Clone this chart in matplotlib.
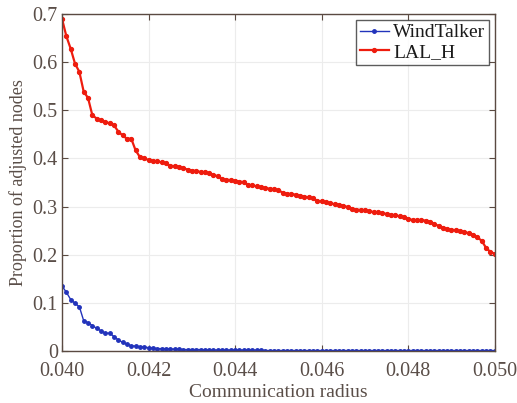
import numpy as np
import matplotlib
matplotlib.use("Agg")
import matplotlib.pyplot as plt

plt.rcParams['font.family'] = ['Liberation Serif', 'DejaVu Serif']

# communication radius, step 0.0001
radius = np.round(np.arange(0, 101) * 0.0001 + 0.040, 4)

lal_h = [0.690, 0.654, 0.628, 0.597, 0.580, 0.539, 0.526, 0.490, 0.483, 0.479,
         0.476, 0.473, 0.469, 0.456, 0.448, 0.441, 0.441, 0.417, 0.403, 0.400,
         0.397, 0.395, 0.394, 0.392, 0.390, 0.385, 0.384, 0.383, 0.380, 0.377,
         0.375, 0.374, 0.372, 0.371, 0.369, 0.366, 0.363, 0.357, 0.356, 0.355,
         0.354, 0.352, 0.351, 0.345, 0.344, 0.342, 0.340, 0.339, 0.337, 0.336,
         0.334, 0.329, 0.327, 0.326, 0.325, 0.323, 0.321, 0.319, 0.317, 0.312,
         0.311, 0.309, 0.307, 0.305, 0.304, 0.302, 0.299, 0.296, 0.294, 0.293,
         0.292, 0.290, 0.289, 0.288, 0.286, 0.285, 0.283, 0.282, 0.280, 0.279,
         0.275, 0.272, 0.272, 0.272, 0.271, 0.269, 0.264, 0.260, 0.256, 0.254,
         0.252, 0.251, 0.249, 0.247, 0.245, 0.242, 0.236, 0.229, 0.214, 0.206,
         0.202]

windtalker = [0.135, 0.122, 0.107, 0.099, 0.092, 0.063, 0.059, 0.053, 0.047, 0.042,
              0.037, 0.037, 0.030, 0.023, 0.018, 0.014, 0.011, 0.010, 0.009, 0.008,
              0.007, 0.006, 0.005, 0.005, 0.005, 0.004, 0.004, 0.004, 0.003, 0.003,
              0.003, 0.003, 0.003, 0.002, 0.002, 0.002, 0.002, 0.002, 0.002, 0.002,
              0.002, 0.002, 0.002, 0.002, 0.002, 0.002, 0.002, 0.001, 0.001, 0.001,
              0.001, 0.001, 0.001, 0.001, 0.001, 0.001, 0.001, 0.001, 0.001, 0.001,
              0.001, 0.001, 0.001, 0.001, 0.001, 0.001, 0.001, 0.001, 0.001, 0.001,
              0.001, 0.001, 0.001, 0.001, 0.001, 0.001, 0.001, 0.001, 0.001, 0.001,
              0.001, 0.001, 0.001, 0.001, 0.001, 0.001, 0.001, 0.001, 0.001, 0.001,
              0.001, 0.001, 0.001, 0.001, 0.001, 0.001, 0.001, 0.001, 0.001, 0.001,
              0.001]

xticks = [0.040, 0.042, 0.044, 0.046, 0.048, 0.050]
yticks = [0, 0.1, 0.2, 0.3, 0.4, 0.5, 0.6, 0.7]

axis_col = '#5a4a42'
text_col = '#5a4e48'

fig = plt.figure(figsize=(5.17, 4.03), dpi=100)
ax = fig.add_axes([0.12, 0.129, 0.837, 0.836])

ax.plot(radius, windtalker, color='#2233bb', lw=1.0, marker='o', ms=2.5,
        label='WindTalker')
ax.plot(radius, lal_h, color='#ee1c0e', lw=1.6, marker='o', ms=2.8,
        label='LAL_H')

ax.set_xlim(0.040, 0.050)
ax.set_ylim(0, 0.7)
ax.set_xticks(xticks)
ax.set_xticklabels(['%.3f' % v for v in xticks])
ax.set_yticks(yticks)
ax.set_yticklabels(['0' if v == 0 else '%.1f' % v for v in yticks])

ax.grid(True, color='#ececec', lw=0.8)
ax.tick_params(direction='in', top=True, right=True, length=4,
               labelsize=14.5, colors=axis_col, labelcolor=text_col)
ax.tick_params(axis='x', pad=8)
ax.tick_params(axis='y', pad=3)
for s in ax.spines.values():
    s.set_color(axis_col)
    s.set_linewidth(1.0)

ax.set_xlabel('Communication radius', fontsize=14, color=text_col, labelpad=2)
ax.set_ylabel('Proportion of adjusted nodes', fontsize=13, color=text_col, labelpad=4)

leg = ax.legend(loc='upper right', fontsize=14, frameon=True, fancybox=False,
                borderpad=0.2, handlelength=1.5, handletextpad=0.2,
                labelspacing=0.1, borderaxespad=0.3)
leg.get_frame().set_edgecolor('#333333')
leg.get_frame().set_linewidth(1.0)
for t in leg.get_texts():
    t.set_color('#1a1a1a')

fig.savefig('out.png', dpi=100)
